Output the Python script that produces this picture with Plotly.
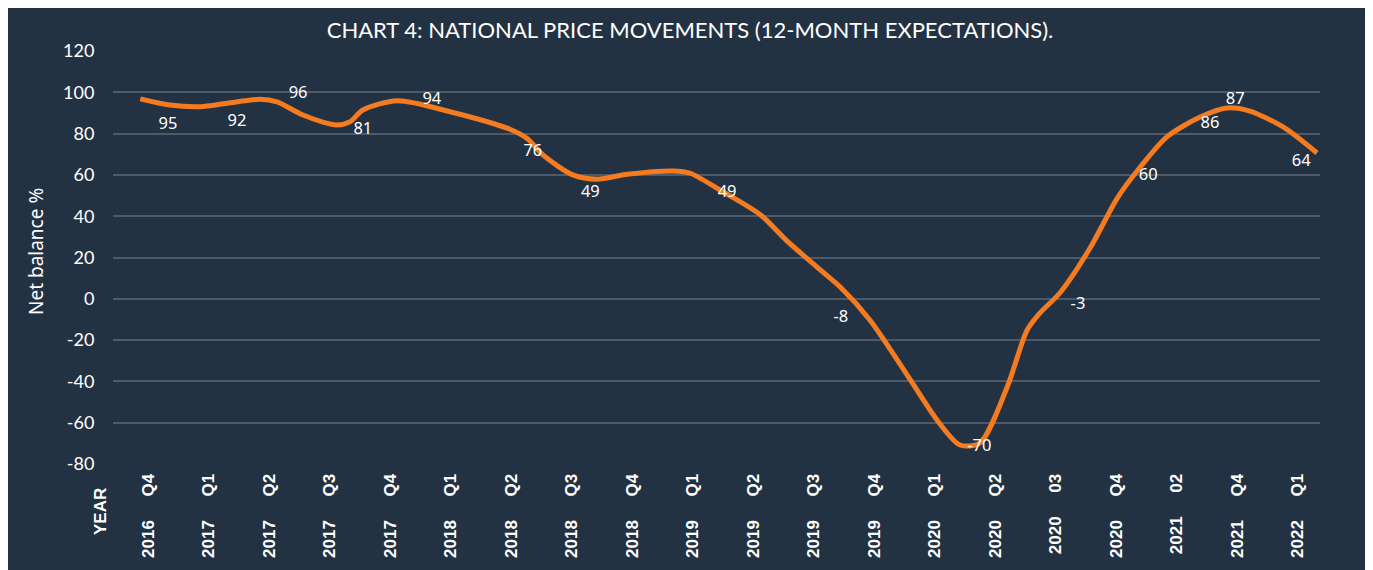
import plotly.graph_objects as go

# Category axis (quarters)
years = ["2016", "2017", "2017", "2017", "2017", "2018", "2018", "2018", "2018", "2019",
         "2019", "2019", "2019", "2020", "2020", "2020", "2020", "2021", "2021", "2022"]
quarters = ["Q4", "Q1", "Q2", "Q3", "Q4", "Q1", "Q2", "Q3", "Q4", "Q1",
            "Q2", "Q3", "Q4", "Q1", "Q2", "03", "Q4", "02", "Q4", "Q1"]

# Smoothed line as drawn (category index, net balance %)
line_x = [-0.13, 0.36, 0.86, 1.31, 1.85, 2.13, 2.56, 3.12, 3.34, 3.55, 4.12, 4.99, 5.98,
          6.26, 6.53, 7.02, 7.42, 7.92, 8.68, 8.96, 9.45, 10.12, 10.55, 11.11, 11.44,
          11.93, 12.60, 13.04, 13.42, 13.75, 14.20, 14.53, 14.74, 15.07, 15.57, 16.02,
          16.40, 16.84, 17.39, 17.83, 18.21, 18.76, 19.32]
line_y = [96.8, 93.8, 93.0, 94.7, 96.6, 95.4, 89.0, 84.2, 85.8, 91.4, 95.9, 90.6, 82.1,
          77.7, 69.6, 60.0, 57.9, 60.3, 61.9, 60.8, 52.7, 40.7, 28.3, 14.0, 5.7,
          -10.3, -39.3, -58.7, -70.8, -69.8, -42.7, -15.1, -6.9, 2.8, 24.6, 48.8,
          63.8, 78.4, 88.0, 92.4, 90.9, 83.2, 70.6]

# Data labels
label_text = ["95", "92", "96", "81", "94", "76", "49", "49", "-8", "-70", "-3", "60", "86", "87", "64"]
label_x = [0.33, 1.47, 2.48, 3.55, 4.69, 6.36, 7.31, 9.57, 11.45, 13.74, 15.37, 16.53, 17.55, 17.97, 19.06]
label_y = [84.2, 85.6, 99.2, 81.7, 96.3, 71.1, 51.2, 51.2, -9.3, -71.8, -3.0, 59.5, 84.6, 96.3, 66.2]

y_ticks = [120, 100, 80, 60, 40, 20, 0, -20, -40, -60, -80]
y_ticktext = ["120", "100", "80", "60", "40", "20", "0", "-20", "-40", "-60", "-80"]

BG = "#233243"
GRID = "#4e5a6a"
ORANGE = "#F47B20"

fig = go.Figure()
fig.add_trace(go.Scatter(
    x=line_x, y=line_y, mode="lines",
    line=dict(color=ORANGE, width=5, shape="spline", smoothing=0.8),
    hoverinfo="skip", showlegend=False,
))
fig.add_trace(go.Scatter(
    x=label_x, y=label_y, mode="text", text=label_text,
    textposition="middle center",
    textfont=dict(color="white", size=16.5, family="Noto Sans"),
    hoverinfo="skip", showlegend=False,
))

ticktext = [f"{y}     {q}" for y, q in zip(years, quarters)]

# page body has an 8px default offset; the figure is sized to fit
fig.update_layout(
    width=1365, height=562,
    margin=dict(l=105, r=53, t=43, b=106),
    paper_bgcolor="white",
    plot_bgcolor=BG,
    shapes=[dict(type="rect", xref="paper", yref="paper",
                 x0=(6 - 113) / 1207, x1=(1368 - 113) / 1207,
                 y0=(464 - 575) / 413, y1=(464 - 7) / 413,
                 fillcolor=BG, line=dict(width=0), layer="below")],
    title=dict(text="CHART 4: NATIONAL PRICE MOVEMENTS (12-MONTH EXPECTATIONS).",
               x=(690 - 8) / 1365, xanchor="center", y=1 - (30 - 8) / 562, yanchor="middle",
               font=dict(color="white", size=22, family="Lato")),
    xaxis=dict(
        range=[-0.58, 19.37], tickvals=list(range(len(years))), ticktext=ticktext,
        tickangle=-90, showgrid=False, zeroline=False, showline=False,
        tickfont=dict(color="white", size=17, family="Liberation Sans", weight="bold"),
        ticks="outside", ticklen=2, tickcolor="rgba(0,0,0,0)",
    ),
    yaxis=dict(
        range=[-80, 120], tickvals=y_ticks, ticktext=y_ticktext,
        showgrid=True, gridcolor=GRID, gridwidth=2,
        zeroline=False, showline=False,
        tickfont=dict(color="white", size=18, family="Lato"),
        ticks="outside", ticklen=14, tickcolor="rgba(0,0,0,0)",
    ),
    annotations=[
        dict(text="Net balance %", textangle=-90, xref="paper", yref="paper",
             x=(36 - 113) / 1207, y=(464 - 252) / 413, xanchor="center", yanchor="middle",
             showarrow=False, font=dict(color="white", size=19, family="Noto Sans")),
        dict(text="<b>YEAR</b>", textangle=-90, xref="paper", yref="paper",
             x=(100 - 113) / 1207, y=(464 - 512) / 413, xanchor="center", yanchor="middle",
             showarrow=False, font=dict(color="white", size=17, family="Liberation Sans")),
    ],
)

fig.write_html("out.html")
